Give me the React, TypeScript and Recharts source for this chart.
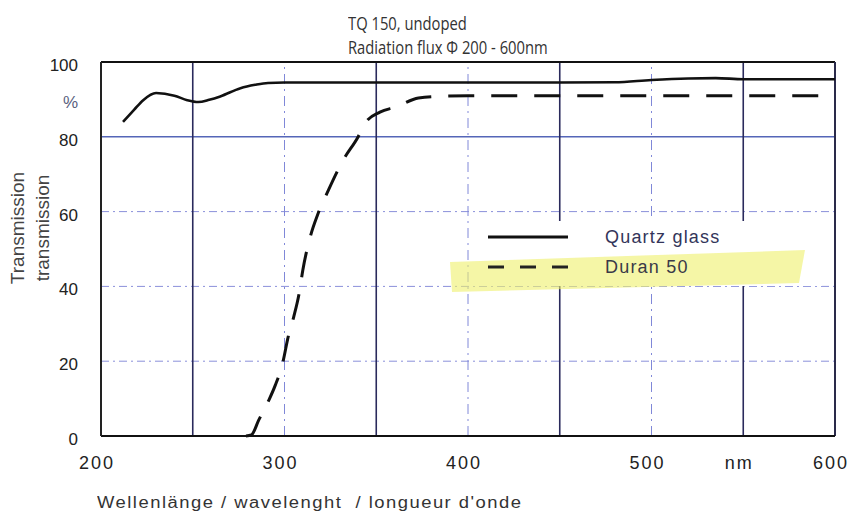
import React from "react";
import { LineChart, Line, XAxis, YAxis, ReferenceLine } from "recharts";

// ---- data ----
const quartzWavelength = [212, 218, 223, 230, 240, 247, 253, 259, 265, 276, 284, 291, 300, 350, 400, 450, 480, 500, 520, 535, 550, 600];
const quartzTransmission = [84.0, 87.2, 89.8, 91.7, 91.0, 89.8, 89.3, 89.9, 90.8, 93.0, 93.9, 94.4, 94.5, 94.5, 94.5, 94.5, 94.6, 95.2, 95.6, 95.7, 95.4, 95.4];

const duranWavelength = [279, 282, 286, 291, 295, 299, 302, 305, 308, 310, 314, 318, 324, 332, 340, 344, 352, 361, 373, 388, 400, 450, 500, 550, 600];
const duranTransmission = [0, 0.3, 4.3, 9.1, 13.6, 19.5, 26.5, 31.8, 38.2, 44.4, 53.2, 59.1, 65.8, 73.8, 79.9, 83.7, 86.6, 88.0, 90.4, 90.9, 91.0, 91.0, 91.0, 91.0, 91.0];

const xTicks = [200, 300, 400, 500, 550, 600];
const xTickLabels: Record<number, string> = { 550: "nm" };
const yTicks = [0, 20, 40, 60, 80, 90, 100];
const yTickLabels: Record<number, string> = { 90: "%" };

const gridXSolid = [250, 350, 450, 550];
const gridXDotted = [300, 400, 500];
const gridYSolid = [80];
const gridYDotted = [20, 40, 60];

const seriesNames = ["Quartz glass", "Duran 50"];
const titleLines = ["TQ 150, undoped", "Radiation flux \u03A6 200 - 600nm"];
const xTitle = "Wellenl\u00E4nge / wavelenght\u00A0\u00A0/ longueur d'onde";
const yTitles = ["Transmission", "transmission"];

const quartzData = quartzWavelength.map((w, i) => ({ wl: w, v: quartzTransmission[i] }));
const duranData = duranWavelength.map((w, i) => ({ wl: w, v: duranTransmission[i] }));

const W = 853;
const H = 521;

const YTick = (props: any) => {
  const { x, y, payload } = props;
  const v = payload.value as number;
  const label = yTickLabels[v] ?? String(v);
  return (
    <text x={x} y={y + 9} textAnchor="end" fontSize={17} fontFamily="'Liberation Sans', Arial, sans-serif" fill={v === 90 ? "#5a5f80" : "#222"}>
      {label}
    </text>
  );
};

const XTick = (props: any) => {
  const { x, y, payload } = props;
  const v = payload.value as number;
  const label = xTickLabels[v] ?? String(v);
  return (
    <text x={x - 4} y={y + 33} textAnchor="middle" fontSize={18} letterSpacing={2} fontFamily="'Liberation Sans', Arial, sans-serif" fill="#222">
      {label}
    </text>
  );
};

export default function App() {
  return (
    <div style={{ position: "absolute", left: 0, top: 0, width: W, height: H, background: "#fff", overflow: "hidden" }}>
      <LineChart width={W} height={H} margin={{ top: 62, right: 18, bottom: 45, left: 41 }}>
        <XAxis
          dataKey="wl"
          type="number"
          domain={[200, 600]}
          ticks={xTicks}
          interval={0}
          allowDataOverflow
          height={40}
          tickSize={0}
          tickMargin={0}
          tickLine={false}
          axisLine={{ stroke: "#111", strokeWidth: 2 }}
          tick={<XTick />}
        />
        <YAxis
          type="number"
          domain={[0, 100]}
          ticks={yTicks}
          interval={0}
          width={60}
          tickSize={0}
          tickMargin={23}
          tickLine={false}
          axisLine={{ stroke: "#222", strokeWidth: 2 }}
          tick={<YTick />}
        />
        {gridYDotted.map((v) => (
          <ReferenceLine key={"yd" + v} y={v} stroke="#8a90da" strokeWidth={1} strokeDasharray="8 4 2 4" />
        ))}
        {gridYSolid.map((v) => (
          <ReferenceLine key={"ys" + v} y={v} stroke="#5566b8" strokeWidth={1.5} />
        ))}
        {gridXDotted.map((v) => (
          <ReferenceLine key={"xd" + v} x={v} stroke="#8088d8" strokeWidth={1} strokeDasharray="10 5 2 5" />
        ))}
        {gridXSolid.map((v) => (
          <ReferenceLine key={"xs" + v} x={v} stroke="#2a2a5c" strokeWidth={1.6} />
        ))}
        <ReferenceLine y={100} stroke="#111" strokeWidth={2} />
        <ReferenceLine x={600} stroke="#2a2a4a" strokeWidth={2} />
        <Line
          data={quartzData}
          dataKey="v"
          name={seriesNames[0]}
          type="monotone"
          stroke="#111"
          strokeWidth={2.6}
          dot={false}
          activeDot={false}
          isAnimationActive={false}
        />
        <Line
          data={duranData}
          dataKey="v"
          name={seriesNames[1]}
          type="monotone"
          stroke="#111"
          strokeWidth={3}
          strokeDasharray="26 17"
          dot={false}
          activeDot={false}
          isAnimationActive={false}
        />
      </LineChart>

      {/* titles */}
      <div style={{ position: "absolute", left: 348, top: 11, fontFamily: "'Open Sans', sans-serif", fontSize: 18, color: "#333", whiteSpace: "nowrap", transform: "scaleX(0.82)", transformOrigin: "0 0", lineHeight: "24px" }}>
        {titleLines[0]}
      </div>
      <div style={{ position: "absolute", left: 348, top: 35, fontFamily: "'Open Sans', sans-serif", fontSize: 18, color: "#333", whiteSpace: "nowrap", transform: "scaleX(0.82)", transformOrigin: "0 0", lineHeight: "24px" }}>
        {titleLines[1]}
      </div>

      {/* y-axis titles */}
      {yTitles.map((t, i) => (
        <div
          key={t}
          style={{
            position: "absolute",
            left: (i === 0 ? 18 : 43) - 60,
            top: 228 - 11,
            width: 120,
            height: 22,
            lineHeight: "22px",
            textAlign: "center",
            transform: "rotate(-90deg)",
            fontFamily: "'Liberation Sans', Arial, sans-serif",
            fontSize: 19,
            color: "#444",
            whiteSpace: "nowrap",
          }}
        >
          {t}
        </div>
      ))}

      {/* x-axis title */}
      <div style={{ position: "absolute", left: 97, top: 492, fontFamily: "'Liberation Sans', Arial, sans-serif", fontSize: 16, letterSpacing: 1.3, color: "#333", whiteSpace: "nowrap", transform: "scaleX(1.15)", transformOrigin: "0 0", lineHeight: "22px" }}>
        {xTitle}
      </div>

      {/* legend */}
      <svg style={{ position: "absolute", left: 0, top: 0 }} width={W} height={H}>
        <rect x={470} y={221} width={352} height={65} fill="#fff" />
        <polygon points="450,262 805,250 799,283 452,292" fill="#eef06a" fillOpacity={0.6} />
        <line x1={488} y1={237} x2={568} y2={237} stroke="#111" strokeWidth={3} />
        <line x1={488} y1={267} x2={568} y2={267} stroke="#222" strokeWidth={3} strokeDasharray="16 16" />
        <text x={605} y={243} fontSize={18} letterSpacing={1.2} fontFamily="'Liberation Sans', Arial, sans-serif" fill="#33355a">
          {seriesNames[0]}
        </text>
        <text x={605} y={273} fontSize={18} letterSpacing={1.2} fontFamily="'Liberation Sans', Arial, sans-serif" fill="#3a3a48">
          {seriesNames[1]}
        </text>
      </svg>
    </div>
  );
}
